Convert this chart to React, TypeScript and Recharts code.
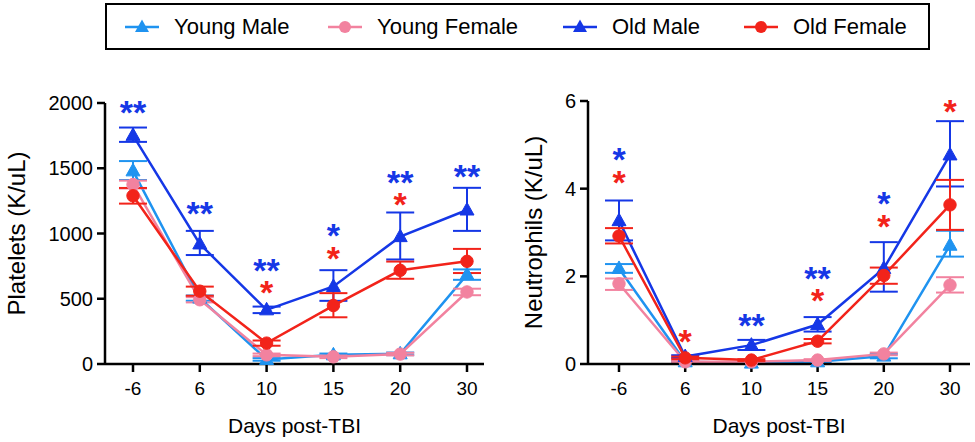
import { LineChart, Line, XAxis, YAxis, ErrorBar, LabelList } from 'recharts';

const days = ['-6', '6', '10', '15', '20', '30'];

// Platelets (K/uL)
const plateletsYoungMale = [1480, 505, 35, 70, 78, 685];
const plateletsYoungFemale = [1375, 492, 70, 55, 76, 552];
const plateletsOldMale = [1752, 920, 415, 594, 976, 1180];
const plateletsOldFemale = [1289, 558, 160, 448, 718, 787];

const plateletsYoungMaleErr = [[70, 75], [20, 20], [10, 10], [10, 10], [10, 10], [40, 40]];
const plateletsYoungFemaleErr = [[30, 30], [20, 20], [10, 10], [10, 10], [10, 10], [25, 25]];
const plateletsOldMaleErr = [[50, 60], [85, 100], [25, 25], [110, 125], [175, 185], [160, 170]];
const plateletsOldFemaleErr = [[60, 60], [35, 35], [20, 20], [90, 95], [65, 67], [90, 95]];

const plateletsBlueStarAt = [1982, 1210, 772, 1040, 1452, 1498];
const plateletsBlueStarText = ['**', '**', '**', '*', '**', '**'];
const plateletsRedStarAt = [null, null, 606, 869, 1282, null];
const plateletsRedStarText = ['', '', '*', '*', '*', ''];

// Neutrophils (K/uL)
const neutrophilsYoungMale = [2.18, 0.05, 0.02, 0.05, 0.18, 2.71];
const neutrophilsYoungFemale = [1.83, 0.05, 0.05, 0.09, 0.23, 1.8];
const neutrophilsOldMale = [3.27, 0.17, 0.43, 0.9, 2.18, 4.77];
const neutrophilsOldFemale = [2.92, 0.14, 0.09, 0.52, 2.02, 3.63];

const neutrophilsYoungMaleErr = [[0.1, 0.1], [0.02, 0.02], [0.02, 0.02], [0.02, 0.02], [0.05, 0.05], [0.26, 0.33]];
const neutrophilsYoungFemaleErr = [[0.14, 0.12], [0.02, 0.02], [0.02, 0.02], [0.02, 0.02], [0.03, 0.03], [0.17, 0.18]];
const neutrophilsOldMaleErr = [[0.45, 0.46], [0.03, 0.03], [0.11, 0.12], [0.16, 0.17], [0.53, 0.6], [0.72, 0.77]];
const neutrophilsOldFemaleErr = [[0.17, 0.18], [0.03, 0.03], [0.02, 0.02], [0.05, 0.05], [0.19, 0.18], [0.57, 0.57]];

const neutrophilsBlueStarAt = [4.84, null, 1.04, 2.13, 3.83, null];
const neutrophilsBlueStarText = ['*', '', '**', '**', '*', ''];
const neutrophilsRedStarAt = [4.31, 0.68, null, 1.61, 3.3, 5.93];
const neutrophilsRedStarText = ['*', '*', '', '*', '*', '*'];

const groups = ['Young Male', 'Young Female', 'Old Male', 'Old Female'];

const C_YM = '#1f93f0';
const C_YF = '#f2829f';
const C_OM = '#1537e6';
const C_OF = '#f2231a';
const FONT = '"Liberation Sans", Arial, sans-serif';

const triangle = (color: string) => (props: any) => {
  const { cx, cy, key } = props;
  if (cx == null || cy == null) return <g key={key} />;
  return (
    <path
      key={key}
      d={`M${cx},${cy - 7.5} L${cx - 7},${cy + 5} L${cx + 7},${cy + 5} Z`}
      fill={color}
      stroke={color}
      strokeWidth={1}
    />
  );
};

const circle = (color: string) => (props: any) => {
  const { cx, cy, key } = props;
  if (cx == null || cy == null) return <g key={key} />;
  return <circle key={key} cx={cx} cy={cy} r={6.2} fill={color} stroke={color} />;
};

// stars are centred on their value
const starLabel = (color: string) => (props: any) => {
  const { x, y, value } = props;
  if (!value || x == null || y == null) return null;
  return (
    <text
      x={x}
      y={y + 19}
      textAnchor="middle"
      fill={color}
      fontSize={34}
      fontWeight="bold"
      fontFamily={FONT}
    >
      {value}
    </text>
  );
};

interface PanelProps {
  left: number;
  width: number;
  margin: { top: number; right: number; bottom: number; left: number };
  padding: { left: number; right: number };
  domain: [number, number];
  ticks: number[];
  title: string;
  titleX: number;
  ym: number[];
  yf: number[];
  om: number[];
  of: number[];
  ymErr: number[][];
  yfErr: number[][];
  omErr: number[][];
  ofErr: number[][];
  blueAt: (number | null)[];
  blueText: string[];
  redAt: (number | null)[];
  redText: string[];
}

function Panel(p: PanelProps) {
  const data = days.map((day, i) => ({
    day,
    ym: p.ym[i],
    yf: p.yf[i],
    om: p.om[i],
    of: p.of[i],
    ymErr: p.ymErr[i],
    yfErr: p.yfErr[i],
    omErr: p.omErr[i],
    ofErr: p.ofErr[i],
    blueAt: p.blueAt[i],
    blueText: p.blueText[i],
    redAt: p.redAt[i],
    redText: p.redText[i],
  }));

  return (
    <div style={{ position: 'absolute', left: p.left, top: 0 }}>
      <LineChart width={p.width} height={442} data={data} margin={p.margin}>
        <XAxis
          dataKey="day"
          type="category"
          padding={p.padding}
          height={40}
          stroke="#000"
          strokeWidth={2.5}
          tickSize={8}
          tickMargin={10}
          tick={{ fill: '#000', fontSize: 19, fontFamily: FONT }}
          tickLine={{ stroke: '#000', strokeWidth: 2.5 }}
          label={(props: any) => {
            const vb = props.viewBox;
            return (
              <text
                x={vb.x + vb.width / 2}
                y={433}
                textAnchor="middle"
                fontSize={21}
                fontFamily={FONT}
                fill="#000"
              >
                Days post-TBI
              </text>
            );
          }}
        />
        <YAxis
          domain={p.domain}
          ticks={p.ticks}
          width={60}
          stroke="#000"
          strokeWidth={2.5}
          tickSize={8}
          tickMargin={4}
          tick={{ fill: '#000', fontSize: 20, fontFamily: FONT }}
          tickLine={{ stroke: '#000', strokeWidth: 2.5 }}
          label={(props: any) => {
            const vb = props.viewBox;
            const cy = vb.y + vb.height / 2;
            return (
              <text
                x={p.titleX}
                y={cy}
                transform={`rotate(-90, ${p.titleX}, ${cy})`}
                textAnchor="middle"
                dominantBaseline="central"
                fontSize={24}
                fontFamily={FONT}
                fill="#000"
              >
                {p.title}
              </text>
            );
          }}
        />
        <Line
          dataKey="ym"
          stroke={C_YM}
          strokeWidth={2.5}
          dot={triangle(C_YM)}
          activeDot={false}
          isAnimationActive={false}
        >
          <ErrorBar dataKey="ymErr" width={14} stroke={C_YM} strokeWidth={2} direction="y" />
        </Line>
        <Line
          dataKey="yf"
          stroke={C_YF}
          strokeWidth={2.5}
          dot={circle(C_YF)}
          activeDot={false}
          isAnimationActive={false}
        >
          <ErrorBar dataKey="yfErr" width={14} stroke={C_YF} strokeWidth={2} direction="y" />
        </Line>
        <Line
          dataKey="om"
          stroke={C_OM}
          strokeWidth={2.5}
          dot={triangle(C_OM)}
          activeDot={false}
          isAnimationActive={false}
        >
          <ErrorBar dataKey="omErr" width={14} stroke={C_OM} strokeWidth={2} direction="y" />
        </Line>
        <Line
          dataKey="of"
          stroke={C_OF}
          strokeWidth={2.5}
          dot={circle(C_OF)}
          activeDot={false}
          isAnimationActive={false}
        >
          <ErrorBar dataKey="ofErr" width={14} stroke={C_OF} strokeWidth={2} direction="y" />
        </Line>
        <Line
          dataKey="blueAt"
          stroke="none"
          dot={false}
          activeDot={false}
          isAnimationActive={false}
        >
          <LabelList dataKey="blueText" content={starLabel(C_OM)} />
        </Line>
        <Line
          dataKey="redAt"
          stroke="none"
          dot={false}
          activeDot={false}
          isAnimationActive={false}
        >
          <LabelList dataKey="redText" content={starLabel(C_OF)} />
        </Line>
      </LineChart>
    </div>
  );
}

function LegendIcon({ color, shape }: { color: string; shape: 'tri' | 'circ' }) {
  return (
    <svg width={34} height={20} style={{ display: 'block' }}>
      <line x1={0} y1={10} x2={34} y2={10} stroke={color} strokeWidth={2.5} />
      {shape === 'tri' ? (
        <path d="M17,2.5 L10,15 L24,15 Z" fill={color} />
      ) : (
        <circle cx={17} cy={10} r={6} fill={color} />
      )}
    </svg>
  );
}

export default function App() {
  const legendItems = [
    { name: groups[0], color: C_YM, shape: 'tri' as const, x: 125 },
    { name: groups[1], color: C_YF, shape: 'circ' as const, x: 328 },
    { name: groups[2], color: C_OM, shape: 'tri' as const, x: 563 },
    { name: groups[3], color: C_OF, shape: 'circ' as const, x: 744 },
  ];
  return (
    <div
      style={{
        position: 'absolute',
        left: 0,
        top: 0,
        width: 975,
        height: 442,
        background: '#fff',
        fontFamily: FONT,
      }}
    >
      <div
        style={{
          position: 'absolute',
          left: 105,
          top: 3,
          width: 821,
          height: 43,
          border: '2px solid #000',
        }}
      />
      {legendItems.map((it) => (
        <div
          key={it.name}
          style={{
            position: 'absolute',
            left: it.x,
            top: 13,
            height: 28,
            display: 'flex',
            alignItems: 'center',
            gap: 15,
            fontSize: 22,
            color: '#000',
            whiteSpace: 'nowrap',
          }}
        >
          <LegendIcon color={it.color} shape={it.shape} />
          <span>{it.name}</span>
        </div>
      ))}
      <Panel
        left={0}
        width={490}
        margin={{ top: 103, right: 6, bottom: 38, left: 45 }}
        padding={{ left: 28, right: 17 }}
        domain={[0, 2000]}
        ticks={[0, 500, 1000, 1500, 2000]}
        title="Platelets (K/uL)"
        titleX={16}
        ym={plateletsYoungMale}
        yf={plateletsYoungFemale}
        om={plateletsOldMale}
        of={plateletsOldFemale}
        ymErr={plateletsYoungMaleErr}
        yfErr={plateletsYoungFemaleErr}
        omErr={plateletsOldMaleErr}
        ofErr={plateletsOldFemaleErr}
        blueAt={plateletsBlueStarAt}
        blueText={plateletsBlueStarText}
        redAt={plateletsRedStarAt}
        redText={plateletsRedStarText}
      />
      <Panel
        left={490}
        width={485}
        margin={{ top: 101, right: 5, bottom: 38, left: 38 }}
        padding={{ left: 31, right: 20 }}
        domain={[0, 6]}
        ticks={[0, 2, 4, 6]}
        title="Neutrophils (K/uL)"
        titleX={43}
        ym={neutrophilsYoungMale}
        yf={neutrophilsYoungFemale}
        om={neutrophilsOldMale}
        of={neutrophilsOldFemale}
        ymErr={neutrophilsYoungMaleErr}
        yfErr={neutrophilsYoungFemaleErr}
        omErr={neutrophilsOldMaleErr}
        ofErr={neutrophilsOldFemaleErr}
        blueAt={neutrophilsBlueStarAt}
        blueText={neutrophilsBlueStarText}
        redAt={neutrophilsRedStarAt}
        redText={neutrophilsRedStarText}
      />
    </div>
  );
}
